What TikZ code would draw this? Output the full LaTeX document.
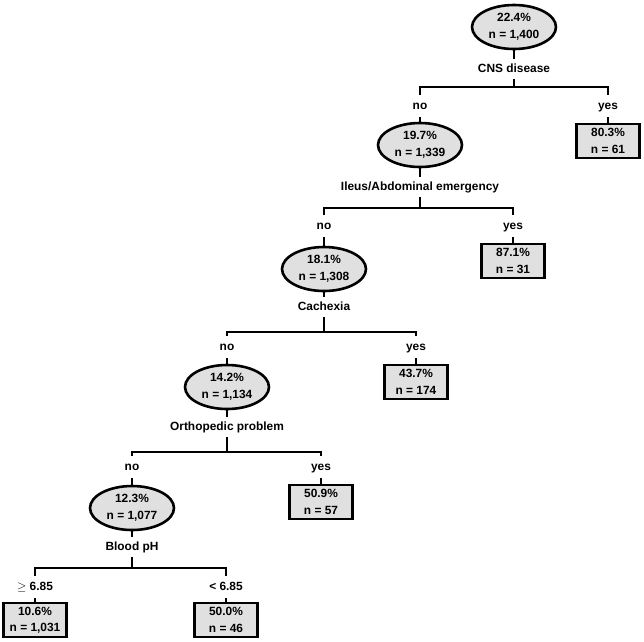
\documentclass[tikz,border=0pt]{standalone}
\usepackage{fontspec}
\setmainfont{Liberation Sans}
\newfontfamily\plainfont{Liberation Sans}
\usetikzlibrary{shapes.geometric}
\tikzset{
  kbase/.style={font=\bfseries\fontsize{11.9}{16.5}\selectfont, align=center},
  ksplit/.style={kbase, ellipse, draw, line width=2.6pt, fill=black!12, inner sep=0pt, minimum width=84, minimum height=44},
  kleaf/.style={kbase, rectangle, draw, line width=2.6pt, fill=black!12, inner sep=0pt, minimum width=63, minimum height=34},
  ktest/.style={kbase, text height=9pt, text depth=2.5pt, inner xsep=2pt, inner ysep=4pt},
  kbranch/.style={kbase, text height=9pt, text depth=2.5pt, inner xsep=2pt, inner ysep=5pt},
  edge/.style={line width=2.4pt},
}
\begin{document}
\begin{tikzpicture}[x=1pt, y=-1pt]
    \useasboundingbox (0,0) rectangle (644,641);
    % root
    \node[ksplit] (n0) at (514,27) {22.4\%\\n = 1,400};
    \node[ktest] (s0) at (514,69) {CNS disease};
    \coordinate (b0) at (514,87);
    \node[kbranch] (no0) at (420,106) {no};
    \node[kbranch] (yes0) at (608,106) {yes};
    \node[kleaf] (t0) at (608,141) {80.3\%\\n = 61};
    % level 1
    \node[ksplit] (n1) at (420,145) {19.7\%\\n = 1,339};
    \node[ktest] (s1) at (420,187) {Ileus/Abdominal emergency};
    \coordinate (b1) at (420,208);
    \node[kbranch] (no1) at (324,226) {no};
    \node[kbranch] (yes1) at (513,226) {yes};
    \node[kleaf] (t1) at (513,261) {87.1\%\\n = 31};
    % level 2
    \node[ksplit] (n2) at (324,269) {18.1\%\\n = 1,308};
    \node[ktest] (s2) at (324,307) {Cachexia};
    \coordinate (b2) at (324,332);
    \node[kbranch] (no2) at (227,347) {no};
    \node[kbranch] (yes2) at (416,347) {yes};
    \node[kleaf] (t2) at (416,382) {43.7\%\\n = 174};
    % level 3
    \node[ksplit] (n3) at (227,387) {14.2\%\\n = 1,134};
    \node[ktest] (s3) at (227,427) {Orthopedic problem};
    \coordinate (b3) at (227,452);
    \node[kbranch] (no3) at (132,467) {no};
    \node[kbranch] (yes3) at (321,467) {yes};
    \node[kleaf] (t3) at (321,502) {50.9\%\\n = 57};
    % level 4
    \node[ksplit] (n4) at (132,508) {12.3\%\\n = 1,077};
    \node[ktest] (s4) at (132,547) {Blood pH};
    \coordinate (b4) at (132,568);
    \node[kbranch] (ge4) at (35,587) {{\plainfont$\geq$} 6.85};
    \node[kbranch] (lt4) at (226,587) {< 6.85};
    \node[kleaf] (t4) at (35,620) {10.6\%\\n = 1,031};
    \node[kleaf] (t5) at (226,620) {50.0\%\\n = 46};
    % connectors
    \foreach \i/\j in {0/1,1/2,2/3,3/4} {
      \draw[edge] (n\i) -- (s\i);
      \draw[edge] (s\i) -- (b\i);
      \draw[edge] (no\i) |- (b\i) -| (yes\i);
      \draw[edge] (no\i) -- (n\j);
      \draw[edge] (yes\i) -- (t\i);
    }
    \draw[edge] (n4) -- (s4);
    \draw[edge] (s4) -- (b4);
    \draw[edge] (ge4) |- (b4) -| (lt4);
    \draw[edge] (ge4) -- (t4);
    \draw[edge] (lt4) -- (t5);
  \end{tikzpicture}
\end{document}
